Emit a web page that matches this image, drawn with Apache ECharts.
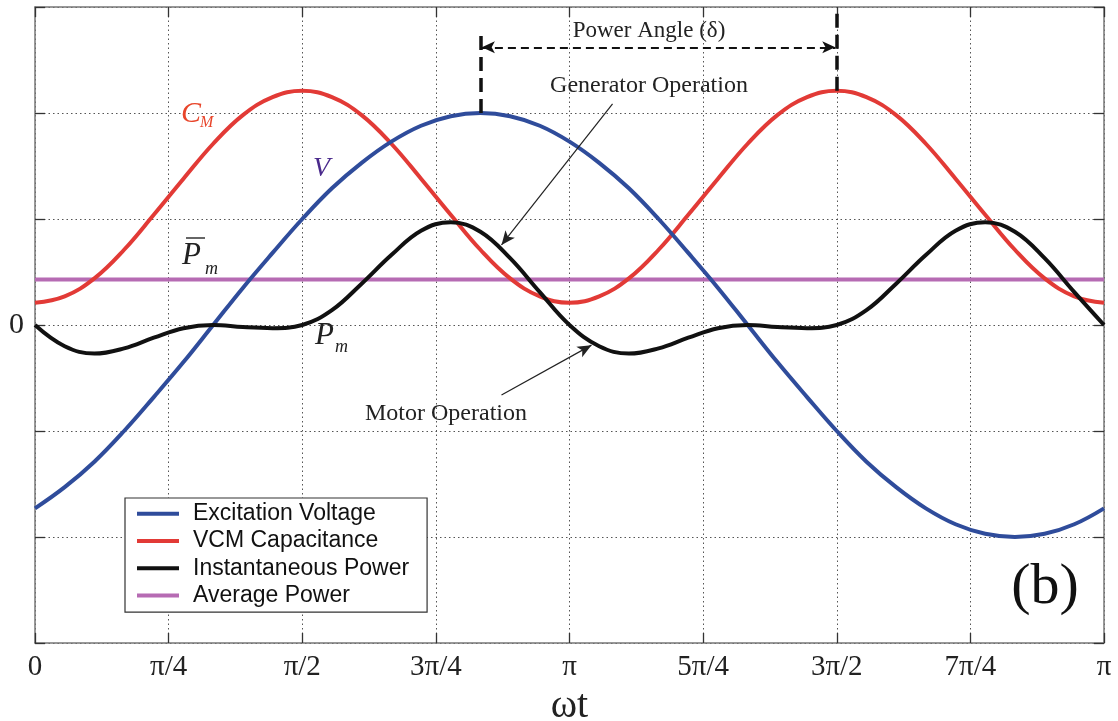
<!DOCTYPE html>
<html>
<head>
<meta charset="utf-8">
<script src="https://cdn.jsdelivr.net/npm/echarts@6/dist/echarts.min.js"></script>
<style>
html,body{margin:0;padding:0;background:#fff;}
#chart{width:1118px;height:721px;}
</style>
</head>
<body>
<div id="chart"></div>
<script>
// ---- data (angles in degrees of ωt) ----
const theta = [0,10,20,30,40,50,60,70,80,90,100,110,120,130,140,150,160,170,180,190,200,210,220,230,240,250,260,270,280,290,300,310,320,330,340,350,360];
const excitationVoltage = [-1.73,-1.53,-1.29,-1.00,-0.68,-0.35,0.00,0.35,0.68,1.00,1.29,1.53,1.73,1.88,1.97,2.00,1.97,1.88,1.73,1.53,1.29,1.00,0.68,0.35,0.00,-0.35,-0.68,-1.00,-1.29,-1.53,-1.73,-1.88,-1.97,-2.00,-1.97,-1.88,-1.73];
const vcmCapacitance = [0.21,0.27,0.44,0.71,1.04,1.38,1.71,1.98,2.15,2.21,2.15,1.98,1.71,1.38,1.04,0.71,0.44,0.27,0.21,0.27,0.44,0.71,1.04,1.38,1.71,1.98,2.15,2.21,2.15,1.98,1.71,1.38,1.04,0.71,0.44,0.27,0.21];
const instantPower = [0.00,-0.20,-0.27,-0.22,-0.12,-0.03,0.00,-0.02,-0.03,0.00,0.14,0.39,0.66,0.89,0.97,0.88,0.63,0.31,0.00,-0.20,-0.27,-0.22,-0.12,-0.03,0.00,-0.02,-0.03,0.00,0.14,0.39,0.66,0.89,0.97,0.88,0.63,0.31,0.00];
const avgTheta = [0, 360];
const averagePower = [0.43, 0.43];
const xTicks = [0,45,90,135,180,225,270,315,360];
const xTickLabels = ['0','π/4','π/2','3π/4','π','5π/4','3π/2','7π/4','π'];
const seriesNames = ['Excitation Voltage','VCM Capacitance','Instantaneous Power','Average Power'];
// annotation anchors (data space)
const powerAngle = [150, 270];       // δ from V peak to C_M peak
const powerAngleLevel = 2.62;
const genArrow = [[194.5, 2.085], [157.1, 0.755]];
const motorArrow = [[157.1, -0.66], [187.4, -0.19]];

const zip = (xs, ys) => xs.map((x, i) => [x, ys[i]]);
const serif = '"Liberation Serif", "DejaVu Serif", serif';

const chart = echarts.init(document.getElementById('chart'));

const axisLineStyle = { show: true, onZero: false, lineStyle: { color: '#777', width: 1.5 } };
const tickStyle = { show: true, inside: true, length: 10, lineStyle: { color: '#333', width: 1.3 } };

chart.setOption({
  animation: false,
  backgroundColor: '#fff',
  grid: { left: 35, right: 14, top: 7, bottom: 78, containLabel: false, outerBoundsMode: 'none' },
  xAxis: [
    {
      type: 'value', min: 0, max: 360, interval: 45, position: 'bottom',
      axisLine: axisLineStyle, axisTick: tickStyle,
      splitLine: { show: true, lineStyle: { type: [1.5, 3], color: '#555', width: 1 } },
      axisLabel: {
        margin: 10, fontFamily: serif, fontSize: 29, color: '#222',
        formatter: v => { const i = xTicks.indexOf(v); return i >= 0 ? xTickLabels[i] : ''; }
      },
      name: 'ωt', nameLocation: 'middle', nameGap: 34,
      nameTextStyle: { fontFamily: serif, fontSize: 40, color: '#222' }
    },
    {
      type: 'value', min: 0, max: 360, interval: 45, position: 'top',
      axisLine: axisLineStyle, axisTick: tickStyle,
      splitLine: { show: false }, axisLabel: { show: false }
    }
  ],
  yAxis: [
    {
      type: 'value', min: -3, max: 3, interval: 1, position: 'left',
      axisLine: axisLineStyle, axisTick: tickStyle,
      splitLine: { show: true, lineStyle: { type: [1.5, 3], color: '#555', width: 1 } },
      axisLabel: {
        margin: 11, fontFamily: serif, fontSize: 30, color: '#222',
        formatter: v => (v === 0 ? '0' : '')
      }
    },
    {
      type: 'value', min: -3, max: 3, interval: 1, position: 'right',
      axisLine: axisLineStyle, axisTick: tickStyle,
      splitLine: { show: false }, axisLabel: { show: false }
    }
  ],
  legend: {
    orient: 'vertical', left: 125, top: 498,
    data: seriesNames,
    icon: 'rect', itemWidth: 42, itemHeight: 4, itemGap: 0,
    padding: [2, 18, 3, 12],
    borderColor: '#333', borderWidth: 1.2, backgroundColor: '#fff',
    textStyle: { fontFamily: '"Liberation Sans", Arial, sans-serif', fontSize: 23, color: '#111', lineHeight: 27.3, padding: [0, 0, 0, 9] },
    selectedMode: false
  },
  series: [
    {
      name: seriesNames[3], type: 'line', data: zip(avgTheta, averagePower),
      showSymbol: false, lineStyle: { color: '#b66bb3', width: 4 }, itemStyle: { color: '#b66bb3' },
      z: 2, silent: true,
      markLine: {
        silent: true, animation: false, label: { show: false },
        emphasis: { disabled: true },
        data: [
          [ { coord: [powerAngle[0], 2.0], symbol: 'none', lineStyle: { color: '#111', width: 3.5, type: [14, 7] } },
            { coord: [powerAngle[0], 2.73], symbol: 'none' } ],
          [ { coord: [powerAngle[1], 2.21], symbol: 'none', lineStyle: { color: '#111', width: 3.5, type: [14, 7] } },
            { coord: [powerAngle[1], 3.0], symbol: 'none' } ],
          [ { coord: [powerAngle[0] + 0.5, powerAngleLevel], symbol: 'arrow', symbolSize: [9, 13], lineStyle: { color: '#111', width: 2, type: [8, 5] } },
            { coord: [powerAngle[1] - 0.5, powerAngleLevel], symbol: 'arrow', symbolSize: [9, 13] } ],
          [ { coord: genArrow[0], symbol: 'none', lineStyle: { color: '#222', width: 1.2, type: 'solid' } },
            { coord: genArrow[1], symbol: 'arrow', symbolSize: [9, 14] } ],
          [ { coord: motorArrow[0], symbol: 'none', lineStyle: { color: '#222', width: 1.2, type: 'solid' } },
            { coord: motorArrow[1], symbol: 'arrow', symbolSize: [9, 14] } ]
        ],
        itemStyle: { color: '#111' }
      }
    },
    {
      name: seriesNames[1], type: 'line', data: zip(theta, vcmCapacitance), smooth: 0.4,
      showSymbol: false, lineStyle: { color: '#e23a36', width: 4 }, itemStyle: { color: '#e23a36' }, z: 3, silent: true
    },
    {
      name: seriesNames[0], type: 'line', data: zip(theta, excitationVoltage), smooth: 0.4,
      showSymbol: false, lineStyle: { color: '#2f4c9b', width: 4 }, itemStyle: { color: '#2f4c9b' }, z: 4, silent: true
    },
    {
      name: seriesNames[2], type: 'line', data: zip(theta, instantPower), smooth: 0.4,
      showSymbol: false, lineStyle: { color: '#111', width: 4 }, itemStyle: { color: '#111' }, z: 5, silent: true
    }
  ],
  graphic: [
    { type: 'text', style: { text: 'Power Angle (δ)', x: 649, y: 31, font: '23px ' + serif, fill: '#222', textAlign: 'center', textVerticalAlign: 'middle', verticalAlign: 'middle' }, z: 20 },
    { type: 'text', style: { text: 'Generator Operation', x: 649, y: 86, font: '24px ' + serif, fill: '#222', textAlign: 'center', textVerticalAlign: 'middle', verticalAlign: 'middle' }, z: 20 },
    { type: 'text', style: { text: 'Motor Operation', x: 446, y: 414, font: '24px ' + serif, fill: '#222', textAlign: 'center', textVerticalAlign: 'middle', verticalAlign: 'middle' }, z: 20 },
    { type: 'text', style: { text: '(b)', x: 1045, y: 588, font: '58px ' + serif, fill: '#111', textAlign: 'center', textVerticalAlign: 'middle', verticalAlign: 'middle' }, z: 20 },
    { type: 'text', style: { text: 'C', x: 181, y: 114, font: 'italic 30px ' + serif, fill: '#e8452a', textAlign: 'left', textVerticalAlign: 'middle', verticalAlign: 'middle' }, z: 20 },
    { type: 'text', style: { text: 'M', x: 200, y: 123, font: 'italic 16px ' + serif, fill: '#e8452a', textAlign: 'left', textVerticalAlign: 'middle', verticalAlign: 'middle' }, z: 20 },
    { type: 'text', style: { text: 'V', x: 313, y: 169, font: 'italic 28px ' + serif, fill: '#4a2a8c', textAlign: 'left', textVerticalAlign: 'middle', verticalAlign: 'middle' }, z: 20 },
    { type: 'text', style: { text: 'P', x: 182, y: 256, font: 'italic 31px ' + serif, fill: '#222', textAlign: 'left', textVerticalAlign: 'middle', verticalAlign: 'middle' }, z: 20 },
    { type: 'line', shape: { x1: 186, y1: 238, x2: 205, y2: 238 }, style: { stroke: '#333', lineWidth: 1.5 }, z: 20 },
    { type: 'text', style: { text: 'm', x: 205, y: 269, font: 'italic 18px ' + serif, fill: '#222', textAlign: 'left', textVerticalAlign: 'middle', verticalAlign: 'middle' }, z: 20 },
    { type: 'text', style: { text: 'P', x: 315, y: 336, font: 'italic 31px ' + serif, fill: '#222', textAlign: 'left', textVerticalAlign: 'middle', verticalAlign: 'middle' }, z: 20 },
    { type: 'text', style: { text: 'm', x: 335, y: 347, font: 'italic 18px ' + serif, fill: '#222', textAlign: 'left', textVerticalAlign: 'middle', verticalAlign: 'middle' }, z: 20 }
  ]
});
</script>
</body>
</html>
